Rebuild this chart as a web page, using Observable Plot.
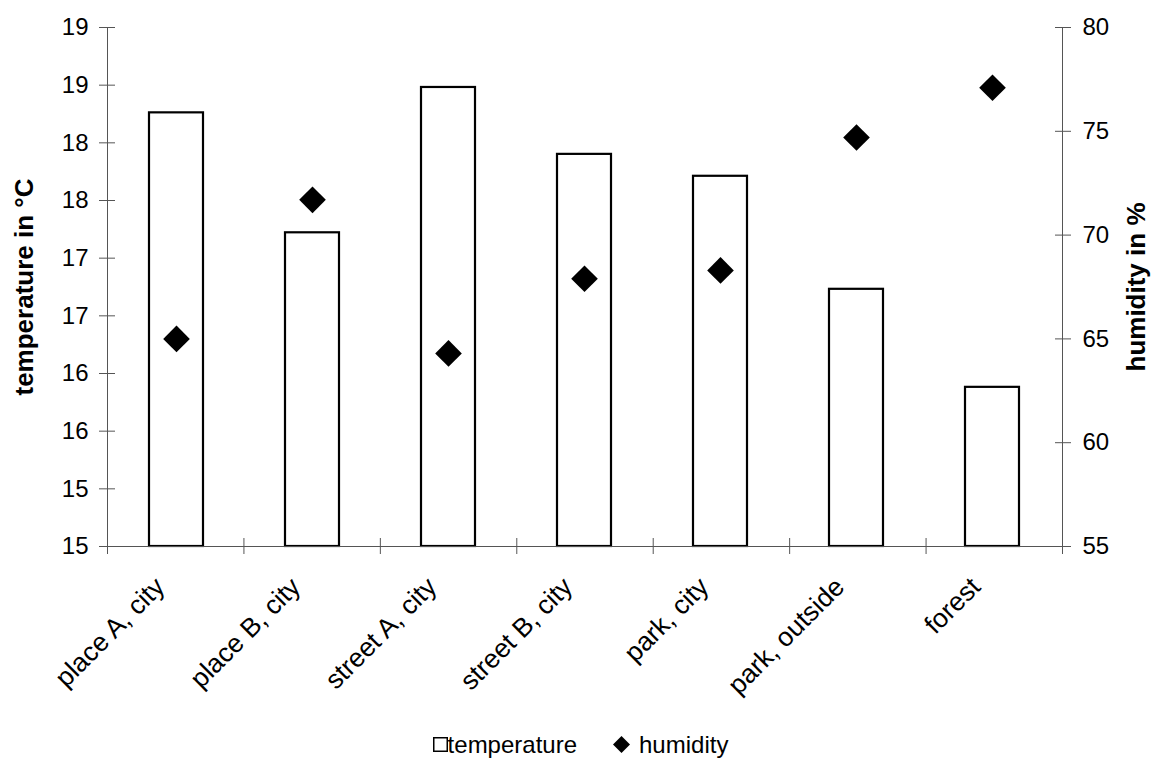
<!DOCTYPE html>
<html><head><meta charset="utf-8">
<script src="https://cdn.jsdelivr.net/npm/d3@7"></script>
<script src="https://cdn.jsdelivr.net/npm/@observablehq/plot@0.6"></script>
<style>
body{margin:0;background:#fff;font-family:"Liberation Sans",Arial,sans-serif;}
#chart{position:relative;width:1151px;height:758px;overflow:hidden;}
#chart svg.layer{position:absolute;left:0;top:0;}
#legend{position:absolute;left:5px;top:729px;width:1151px;height:31px;display:flex;justify-content:center;align-items:center;font-size:24px;color:#000;white-space:nowrap;}
#legend .item{display:flex;align-items:center;}
</style></head><body>
<div id="chart"><div id="legend"></div></div>
<script>
// ---- data ----
const categories = ["place A, city", "place B, city", "street A, city", "street B, city", "park, city", "park, outside", "forest"];
const temperature = [18.76, 17.72, 18.98, 18.40, 18.21, 17.23, 16.38];
const humidity = [65.0, 71.7, 64.3, 67.9, 68.3, 74.7, 77.1];
const tempTicks = [15, 15.5, 16, 16.5, 17, 17.5, 18, 18.5, 19, 19.5];
const tempTickLabels = ["15", "15", "16", "16", "17", "17", "18", "18", "19", "19"];
const humTicks = [55, 60, 65, 70, 75, 80];
const humTickLabels = ["55", "60", "65", "70", "75", "80"];
const tempDomain = [15, 19.5];
const humDomain = [55, 80];
const leftTitle = "temperature in °C";
const rightTitle = "humidity in %";
const legendLabels = ["temperature", "humidity"];

const rows = categories.map((c, i) => ({cat: c, temp: temperature[i], hum: humidity[i]}));

// ---- layout ----
const W = 1151, H = 727;
const M = {top: 27, right: 89, bottom: H - 546, left: 107};
const FONT = "'Liberation Sans', Arial, sans-serif";
const AXIS = "#555";
const style = {background: "transparent", fontFamily: FONT, fontSize: "24px", color: "black", overflow: "visible"};
const base = {width: W, height: H, marginTop: M.top, marginRight: M.right, marginBottom: M.bottom, marginLeft: M.left, style};
const xBand = {type: "band", domain: categories, paddingInner: 0.6, paddingOuter: 0.3, axis: null};

// Layer 1: temperature bars, left axis, category labels
const p1 = Plot.plot({
  ...base,
  x: xBand,
  y: {domain: tempDomain, axis: null},
  marks: [
    Plot.barY(rows, {x: "cat", y1: tempDomain[0], y2: "temp", fill: "white", stroke: "black", strokeWidth: 2.2}),
    Plot.axisY({anchor: "left", ticks: tempTicks, tickFormat: d => tempTickLabels[tempTicks.indexOf(d)],
      tickSize: 16, dx: 8, tickPadding: 11, fontSize: 24, stroke: AXIS, fill: "black", label: null}),
    Plot.axisX({anchor: "bottom", tickSize: 0, tickRotate: -45, tickPadding: 36, dx: -16.5, fontSize: 26.5, fill: "black", label: null}),
    Plot.text([leftTitle], {frameAnchor: "left", dx: -83, rotate: -90, textAnchor: "middle", lineAnchor: "middle",
      fontWeight: "bold", fontSize: 26, fill: "black"})
  ]
});

// Layer 2: humidity diamonds, right axis
const p2 = Plot.plot({
  ...base,
  x: xBand,
  y: {domain: humDomain, axis: null},
  marks: [
    Plot.dot(rows, {x: "cat", y: "hum", symbol: "diamond2", r: 12, fill: "black", stroke: "none"}),
    Plot.axisY({anchor: "right", ticks: humTicks, tickFormat: d => humTickLabels[humTicks.indexOf(d)],
      tickSize: 16, dx: -8, tickPadding: 12, fontSize: 24, stroke: AXIS, fill: "black", label: null}),
    Plot.text([rightTitle], {frameAnchor: "right", dx: 74, rotate: -90, textAnchor: "middle", lineAnchor: "middle",
      fontWeight: "bold", fontSize: 26, fill: "black"})
  ]
});

// Layer 3: axis lines and category boundary ticks
const bounds = d3.range(categories.length + 1);
const p3 = Plot.plot({
  ...base,
  x: {type: "linear", domain: [0, categories.length], axis: null},
  y: {domain: tempDomain, axis: null},
  marks: [
    Plot.ruleX([0, categories.length], {stroke: AXIS}),
    Plot.ruleY([tempDomain[0]], {stroke: AXIS}),
    Plot.axisX({anchor: "bottom", ticks: bounds, tickSize: 16, dy: -8, tickFormat: () => "", stroke: AXIS, label: null})
  ]
});

const chart = document.getElementById("chart");
for (const p of [p1, p3, p2]) { p.classList.add("layer"); chart.appendChild(p); }

// Legend
const legend = document.getElementById("legend");
legend.innerHTML =
  `<span class="item"><svg width="15" height="15"><rect x="0.75" y="0.75" width="13.5" height="13.5" fill="white" stroke="black" stroke-width="1.5"/></svg><span>${legendLabels[0]}</span></span>` +
  `<span class="item" style="margin-left:36px"><svg width="17" height="17" style="margin-right:9px"><path d="M8.5 0L17 8.5L8.5 17L0 8.5Z" fill="black"/></svg><span>${legendLabels[1]}</span></span>`;
</script>
</body></html>
